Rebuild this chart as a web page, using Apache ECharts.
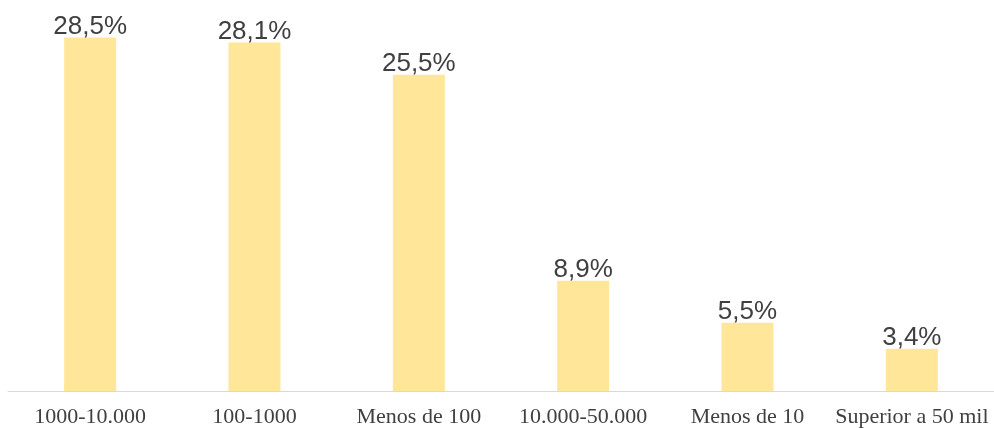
<!DOCTYPE html>
<html>
<head>
<meta charset="utf-8">
<script src="https://cdn.jsdelivr.net/npm/echarts@6/dist/echarts.min.js"></script>
<style>
  html, body { margin: 0; padding: 0; background: #fff; }
  #chart { width: 994px; height: 428px; }
</style>
</head>
<body>
<div id="chart"></div>
<script>
const categories = ['1000-10.000', '100-1000', 'Menos de 100', '10.000-50.000', 'Menos de 10', 'Superior a 50 mil']
const values = [28.5, 28.1, 25.5, 8.9, 5.5, 3.4]

const chart = echarts.init(document.getElementById('chart'))
chart.setOption({
  animation: false,
  grid: {
    left: 8,
    right: -3,
    top: 19,
    bottom: 36,
    containLabel: false
  },
  xAxis: {
    type: 'category',
    data: categories,
    axisTick: { show: false },
    axisLine: { lineStyle: { color: '#d9d9d9', width: 1 } },
    axisLabel: {
      interval: 0,
      margin: 15,
      color: '#404040',
      fontFamily: 'Liberation Serif',
      fontSize: 22
    }
  },
  yAxis: {
    type: 'value',
    min: 0,
    max: 30,
    show: false
  },
  series: [{
    type: 'bar',
    data: values,
    barWidth: 52,
    itemStyle: { color: '#FFE699' },
    label: {
      show: true,
      position: 'top',
      distance: -2,
      color: '#404040',
      fontFamily: 'Liberation Sans',
      fontSize: 26,
      formatter: p => p.value.toFixed(1).replace('.', ',') + '%'
    }
  }]
})
</script>
</body>
</html>
